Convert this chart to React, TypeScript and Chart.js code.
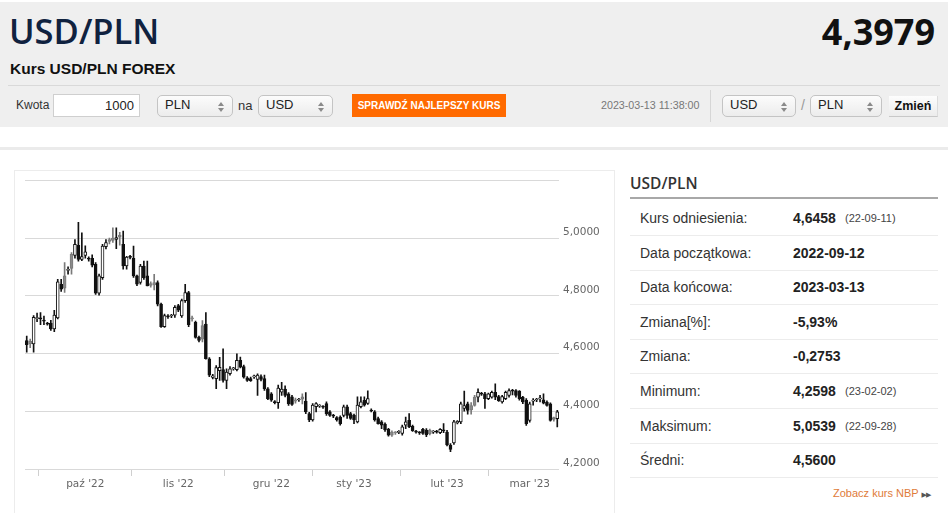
import React, { useEffect, useRef } from "react";
import { Chart, registerables } from "chart.js";

Chart.register(...registerables);

// ---- data (daily candles, 2022-09-12 .. 2023-03-13) ----
const opens = [
  4.645, 4.642, 4.633, 4.721, 4.722, 4.714, 4.703, 4.705, 4.685, 4.723,
  4.840, 4.869, 4.888, 4.944, 4.940, 4.975, 4.926, 4.940, 4.929, 4.930,
  4.909, 4.809, 4.863, 4.970, 4.995, 5.000, 4.995, 5.010, 4.978, 4.903,
  4.935, 4.930, 4.869, 4.846, 4.903, 4.869, 4.842, 4.846, 4.846, 4.771,
  4.693, 4.729, 4.730, 4.733, 4.766, 4.730, 4.783, 4.811, 4.724, 4.708,
  4.656, 4.697, 4.702, 4.582, 4.517, 4.513, 4.541, 4.544, 4.507, 4.530,
  4.547, 4.544, 4.576, 4.555, 4.516, 4.513, 4.519, 4.510, 4.520, 4.513,
  4.478, 4.460, 4.431, 4.430, 4.466, 4.477, 4.460, 4.450, 4.440, 4.439,
  4.450, 4.435, 4.392, 4.370, 4.416, 4.418, 4.415, 4.427, 4.398, 4.384,
  4.378, 4.380, 4.386, 4.415, 4.392, 4.386, 4.363, 4.416, 4.438, 4.427,
  4.403, 4.398, 4.375, 4.363, 4.356, 4.337, 4.328, 4.326, 4.327, 4.323,
  4.352, 4.369, 4.348, 4.329, 4.326, 4.337, 4.335, 4.335, 4.328, 4.329,
  4.326, 4.333, 4.328, 4.283, 4.290, 4.360, 4.363, 4.410, 4.426, 4.420,
  4.449, 4.449, 4.460, 4.460, 4.444, 4.449, 4.466, 4.451, 4.432, 4.444,
  4.455, 4.472, 4.472, 4.470, 4.449, 4.438, 4.368, 4.435, 4.439, 4.443,
  4.440, 4.432, 4.426, 4.378, 4.374,
];
const highs = [
  4.660, 4.650, 4.731, 4.740, 4.742, 4.730, 4.708, 4.715, 4.750, 4.857,
  4.857, 4.915, 4.900, 4.950, 4.995, 5.054, 5.018, 4.973, 4.935, 4.942,
  4.915, 4.875, 4.978, 4.995, 5.000, 5.035, 5.035, 5.020, 5.024, 4.937,
  4.940, 4.972, 4.872, 4.909, 4.920, 4.920, 4.848, 4.874, 4.852, 4.775,
  4.737, 4.735, 4.736, 4.766, 4.770, 4.789, 4.840, 4.815, 4.730, 4.712,
  4.660, 4.714, 4.742, 4.586, 4.528, 4.558, 4.587, 4.616, 4.547, 4.555,
  4.552, 4.599, 4.588, 4.560, 4.520, 4.518, 4.525, 4.530, 4.526, 4.525,
  4.482, 4.465, 4.437, 4.491, 4.500, 4.488, 4.465, 4.455, 4.446, 4.445,
  4.460, 4.465, 4.396, 4.427, 4.430, 4.423, 4.420, 4.433, 4.402, 4.389,
  4.382, 4.384, 4.421, 4.421, 4.396, 4.390, 4.450, 4.450, 4.450, 4.471,
  4.408, 4.402, 4.380, 4.368, 4.360, 4.341, 4.332, 4.330, 4.333, 4.352,
  4.380, 4.392, 4.352, 4.334, 4.330, 4.341, 4.340, 4.338, 4.333, 4.334,
  4.340, 4.357, 4.334, 4.288, 4.369, 4.368, 4.432, 4.470, 4.432, 4.430,
  4.455, 4.478, 4.466, 4.466, 4.463, 4.470, 4.495, 4.455, 4.455, 4.470,
  4.478, 4.476, 4.475, 4.472, 4.452, 4.444, 4.432, 4.444, 4.445, 4.455,
  4.460, 4.436, 4.429, 4.380, 4.403,
];
const lows = [
  4.605, 4.620, 4.605, 4.710, 4.700, 4.700, 4.698, 4.680, 4.676, 4.720,
  4.815, 4.812, 4.875, 4.875, 4.930, 4.920, 4.922, 4.930, 4.920, 4.900,
  4.805, 4.802, 4.857, 4.962, 4.980, 4.985, 4.963, 4.975, 4.892, 4.892,
  4.928, 4.864, 4.835, 4.840, 4.857, 4.834, 4.830, 4.820, 4.765, 4.690,
  4.690, 4.722, 4.724, 4.725, 4.745, 4.725, 4.777, 4.693, 4.712, 4.653,
  4.640, 4.640, 4.580, 4.520, 4.512, 4.478, 4.507, 4.501, 4.478, 4.525,
  4.542, 4.540, 4.550, 4.515, 4.503, 4.503, 4.514, 4.455, 4.505, 4.472,
  4.440, 4.434, 4.425, 4.410, 4.455, 4.450, 4.420, 4.420, 4.428, 4.434,
  4.425, 4.392, 4.364, 4.366, 4.398, 4.413, 4.410, 4.386, 4.382, 4.378,
  4.366, 4.352, 4.380, 4.375, 4.372, 4.357, 4.360, 4.412, 4.418, 4.424,
  4.398, 4.366, 4.355, 4.340, 4.330, 4.314, 4.313, 4.320, 4.322, 4.317,
  4.340, 4.343, 4.330, 4.324, 4.320, 4.320, 4.312, 4.318, 4.323, 4.324,
  4.322, 4.326, 4.280, 4.2598, 4.285, 4.356, 4.357, 4.400, 4.390, 4.390,
  4.418, 4.432, 4.455, 4.410, 4.440, 4.445, 4.440, 4.434, 4.428, 4.440,
  4.449, 4.457, 4.449, 4.438, 4.426, 4.351, 4.362, 4.421, 4.433, 4.432,
  4.425, 4.418, 4.366, 4.366, 4.346,
];
const closes = [
  4.631, 4.634, 4.725, 4.723, 4.720, 4.712, 4.702, 4.685, 4.733, 4.848,
  4.823, 4.826, 4.892, 4.895, 4.978, 4.926, 4.936, 4.952, 4.927, 4.906,
  4.809, 4.869, 4.972, 4.984, 4.988, 4.992, 5.002, 5.003, 4.903, 4.934,
  4.933, 4.869, 4.840, 4.903, 4.863, 4.834, 4.836, 4.838, 4.771, 4.693,
  4.731, 4.727, 4.731, 4.760, 4.750, 4.783, 4.811, 4.700, 4.720, 4.656,
  4.645, 4.650, 4.582, 4.525, 4.523, 4.551, 4.552, 4.507, 4.536, 4.547,
  4.549, 4.576, 4.553, 4.518, 4.507, 4.506, 4.521, 4.525, 4.510, 4.478,
  4.444, 4.438, 4.430, 4.480, 4.477, 4.455, 4.426, 4.424, 4.435, 4.441,
  4.442, 4.398, 4.370, 4.421, 4.427, 4.419, 4.414, 4.392, 4.386, 4.383,
  4.370, 4.357, 4.415, 4.386, 4.375, 4.370, 4.421, 4.433, 4.421, 4.444,
  4.401, 4.370, 4.357, 4.352, 4.335, 4.317, 4.317, 4.325, 4.328, 4.346,
  4.363, 4.346, 4.333, 4.328, 4.325, 4.323, 4.318, 4.322, 4.329, 4.328,
  4.337, 4.332, 4.283, 4.268, 4.363, 4.365, 4.426, 4.420, 4.403, 4.405,
  4.420, 4.466, 4.459, 4.444, 4.460, 4.466, 4.449, 4.437, 4.451, 4.466,
  4.472, 4.470, 4.455, 4.444, 4.432, 4.357, 4.426, 4.437, 4.441, 4.445,
  4.428, 4.420, 4.368, 4.372, 4.398,
];

const monthTickIdx = [17, 44, 71, 95, 122, 146];
const monthTickLabels = ["paź '22", "lis '22", "gru '22", "sty '23", "lut '23", "mar '23"];

const yTickMin = 4.2;
const yTickMax = 5.2;
const yTickStep = 0.2;

const statLabels = [
  "Kurs odniesienia:", "Data początkowa:", "Data końcowa:", "Zmiana[%]:",
  "Zmiana:", "Minimum:", "Maksimum:", "Średni:",
];
const statValues = ["4,6458", "2022-09-12", "2023-03-13", "-5,93%", "-0,2753", "4,2598", "5,0539", "4,5600"];
const statDates = ["(22-09-11)", "", "", "", "", "(23-02-02)", "(22-09-28)", ""];

const SANS = '"Liberation Sans", Arial, Helvetica, sans-serif';
const DEJAVU = '"DejaVu Sans", Verdana, sans-serif';
const OPEN = '"Open Sans", "DejaVu Sans", sans-serif';

function candleKind(i: number): "up" | "down" | "grey" {
  const o = opens[i];
  const c = closes[i];
  if (c > o) return "up";
  if (i > 0 && c >= closes[i - 1]) return "grey";
  return "down";
}

function CandleChart() {
  const ref = useRef<HTMLCanvasElement | null>(null);
  useEffect(() => {
    if (!ref.current) return;
    const labels = opens.map((_, i) => String(i));
    const chart = new Chart(ref.current, {
      type: "bar",
      data: {
        labels,
        datasets: [
          {
            label: "body",
            order: 0,
            grouped: false,
            data: opens.map((o, i) => [Math.min(o, closes[i]), Math.max(o, closes[i])]) as any,
            barThickness: 3,
            minBarLength: 1,
            borderWidth: 1,
            borderSkipped: false,
            backgroundColor: (ctx: any) => {
              const k = candleKind(ctx.dataIndex);
              return k === "up" ? "#ffffff" : k === "grey" ? "#8a8a8a" : "#111111";
            },
            borderColor: (ctx: any) => {
              const k = candleKind(ctx.dataIndex);
              return k === "grey" ? "#7a7a7a" : "#111111";
            },
          } as any,
          {
            label: "wick",
            order: 1,
            grouped: false,
            data: lows.map((l, i) => [l, highs[i]]) as any,
            barThickness: 1,
            borderWidth: 0,
            backgroundColor: (ctx: any) => (candleKind(ctx.dataIndex) === "grey" ? "#7a7a7a" : "#111111"),
          } as any,
        ],
      },
      options: {
        animation: false,
        responsive: false,
        maintainAspectRatio: false,
        layout: { padding: { left: 11, top: 9, right: 0, bottom: 0 } },
        plugins: { legend: { display: false }, tooltip: { enabled: false } },
        scales: {
          x: {
            type: "category",
            offset: true,
            grid: { display: true, drawOnChartArea: false, drawTicks: true, tickLength: 7, color: "#cfcfcf" },
            border: { display: false },
            ticks: {
              autoSkip: false,
              maxRotation: 0,
              padding: 2,
              color: "#666",
              font: { family: DEJAVU, size: 10.5 },
              callback: (value: any) => {
                const k = monthTickIdx.indexOf(Number(value));
                return k >= 0 ? monthTickLabels[k] : "";
              },
            },
            afterBuildTicks: (axis: any) => {
              axis.ticks = monthTickIdx.map((v) => ({ value: v }));
            },
            afterFit: (s: any) => {
              s.height = 36;
            },
          } as any,
          y: {
            position: "right",
            min: yTickMin,
            max: yTickMax,
            grid: { color: "#d9d9d9", drawTicks: false, lineWidth: 1 },
            border: { display: false },
            ticks: {
              stepSize: yTickStep,
              padding: 4,
              labelOffset: -6,
              color: "#666",
              font: { family: DEJAVU, size: 10.5 },
              callback: (v: any) => {
                const n = Number(v);
                if (Math.abs(n - yTickMax) < 1e-6) return "";
                return n.toFixed(4).replace(".", ",");
              },
            },
            afterFit: (s: any) => {
              s.width = 56;
            },
          } as any,
        },
      },
    });
    return () => chart.destroy();
  }, []);
  return (
    <canvas
      ref={ref}
      width={601}
      height={335}
      style={{ position: "absolute", left: 14, top: 170, width: 601, height: 335 }}
    />
  );
}

function Arrows() {
  return (
    <span style={{ position: "absolute", right: 8, top: 6, width: 6, height: 10 }}>
      <span style={{ position: "absolute", left: 0, top: 0, width: 0, height: 0, borderLeft: "3px solid transparent", borderRight: "3px solid transparent", borderBottom: "4px solid #8a8a8a" }} />
      <span style={{ position: "absolute", left: 0, top: 6, width: 0, height: 0, borderLeft: "3px solid transparent", borderRight: "3px solid transparent", borderTop: "4px solid #8a8a8a" }} />
    </span>
  );
}

function Sel({ left, width, text }: { left: number; width: number; text: string }) {
  return (
    <div
      style={{
        position: "absolute",
        left,
        top: 95,
        width,
        height: 22,
        boxSizing: "border-box",
        border: "1px solid #c4c4c4",
        borderRadius: 5,
        background: "linear-gradient(#fcfcfc, #ececec)",
        fontSize: 13,
        lineHeight: "18px",
        paddingLeft: 7,
        color: "#222",
      }}
    >
      {text}
      <Arrows />
    </div>
  );
}

export default function App() {
  useEffect(() => {
    document.body.style.margin = "0";
  }, []);
  return (
    <div style={{ position: "relative", width: 948, height: 513, overflow: "hidden", background: "#fff", fontFamily: SANS, color: "#333" }}>
      <style>{"body{margin:0}"}</style>
      {/* header */}
      <div style={{ position: "absolute", left: 0, top: 2, width: 948, height: 125, background: "#efefef" }} />
      <div style={{ position: "absolute", left: 9, top: 13, fontFamily: OPEN, fontSize: 34.5, lineHeight: "35px", fontWeight: 600, color: "#10223f", whiteSpace: "nowrap" }}>USD/PLN</div>
      <div style={{ position: "absolute", right: 13, top: 14, fontFamily: OPEN, fontSize: 36, lineHeight: "36px", fontWeight: "bold", color: "#111", whiteSpace: "nowrap" }}>4,3979</div>
      <div style={{ position: "absolute", left: 10, top: 61, fontSize: 15.5, lineHeight: "16px", fontWeight: "bold", color: "#111", whiteSpace: "nowrap" }}>Kurs USD/PLN FOREX</div>
      <div style={{ position: "absolute", left: 8, top: 85, width: 932, height: 1, background: "#d9d9d9" }} />

      <div style={{ position: "absolute", left: 16, top: 94, fontSize: 12, lineHeight: "23px", color: "#333" }}>Kwota</div>
      <div style={{ position: "absolute", left: 53, top: 94, width: 87, height: 23, boxSizing: "border-box", border: "1px solid #cfcfcf", background: "#fff", fontSize: 13, lineHeight: "21px", textAlign: "right", paddingRight: 5, color: "#222" }}>1000</div>
      <Sel left={157} width={76} text="PLN" />
      <div style={{ position: "absolute", left: 238, top: 94, fontSize: 13, lineHeight: "23px", color: "#333" }}>na</div>
      <Sel left={258} width={75} text="USD" />
      <div style={{ position: "absolute", left: 352, top: 94, width: 154, height: 23, background: "#ff6a00", color: "#fff", fontSize: 10, fontWeight: "bold", lineHeight: "23px", textAlign: "center", whiteSpace: "nowrap" }}>SPRAWDŹ NAJLEPSZY KURS</div>
      <div style={{ position: "absolute", left: 601, top: 94, fontSize: 10.7, lineHeight: "23px", color: "#777", whiteSpace: "nowrap" }}>2023-03-13 11:38:00</div>
      <div style={{ position: "absolute", left: 710, top: 90, width: 1, height: 32, background: "#d6d6d6" }} />
      <Sel left={722} width={74} text="USD" />
      <div style={{ position: "absolute", left: 801, top: 94, fontSize: 14, lineHeight: "23px", color: "#999" }}>/</div>
      <Sel left={810} width={72} text="PLN" />
      <div style={{ position: "absolute", left: 889, top: 96, width: 49, height: 21, boxSizing: "border-box", background: "linear-gradient(#fdfdfd, #ececec)", borderBottom: "1px solid #c8c8c8", borderRight: "1px solid #dcdcdc", fontSize: 12.5, fontWeight: "bold", lineHeight: "20px", textAlign: "center", color: "#111" }}>Zmień</div>

      {/* content */}
      <div style={{ position: "absolute", left: 0, top: 147, width: 948, height: 3, background: "#ebebeb" }} />
      <div style={{ position: "absolute", left: 14, top: 170, width: 601, height: 360, boxSizing: "border-box", border: "1px solid #ececec" }} />
      <CandleChart />

      {/* stats panel */}
      <div style={{ position: "absolute", left: 630, top: 174, fontFamily: OPEN, fontSize: 15.5, lineHeight: "18px", fontWeight: 600, color: "#333" }}>USD/PLN</div>
      <div style={{ position: "absolute", left: 630, top: 197, width: 308, height: 2, background: "#a8a8a8" }} />
      {statLabels.map((lab, i) => (
        <React.Fragment key={lab}>
          <div style={{ position: "absolute", left: 640, top: 208 + i * 34.6, fontSize: 14, lineHeight: "20px", color: "#333", whiteSpace: "nowrap" }}>{lab}</div>
          <div style={{ position: "absolute", left: 793, top: 208 + i * 34.6, fontSize: 14, lineHeight: "20px", fontWeight: "bold", color: "#222", whiteSpace: "nowrap" }}>{statValues[i]}</div>
          {statDates[i] ? (
            <div style={{ position: "absolute", left: 845, top: 208 + i * 34.6, fontSize: 11, lineHeight: "21px", color: "#444", whiteSpace: "nowrap" }}>{statDates[i]}</div>
          ) : null}
          <div style={{ position: "absolute", left: 630, top: 235 + i * 34.6, width: 308, height: 1, background: "#ececec" }} />
        </React.Fragment>
      ))}
      <div style={{ position: "absolute", left: 833, top: 486, fontSize: 11, lineHeight: "14px", color: "#e07b39", whiteSpace: "nowrap" }}>
        Zobacz kurs NBP
        <span style={{ fontFamily: DEJAVU, fontSize: 7, color: "#555", marginLeft: 3, letterSpacing: -1 }}>▶▶</span>
      </div>
    </div>
  );
}
